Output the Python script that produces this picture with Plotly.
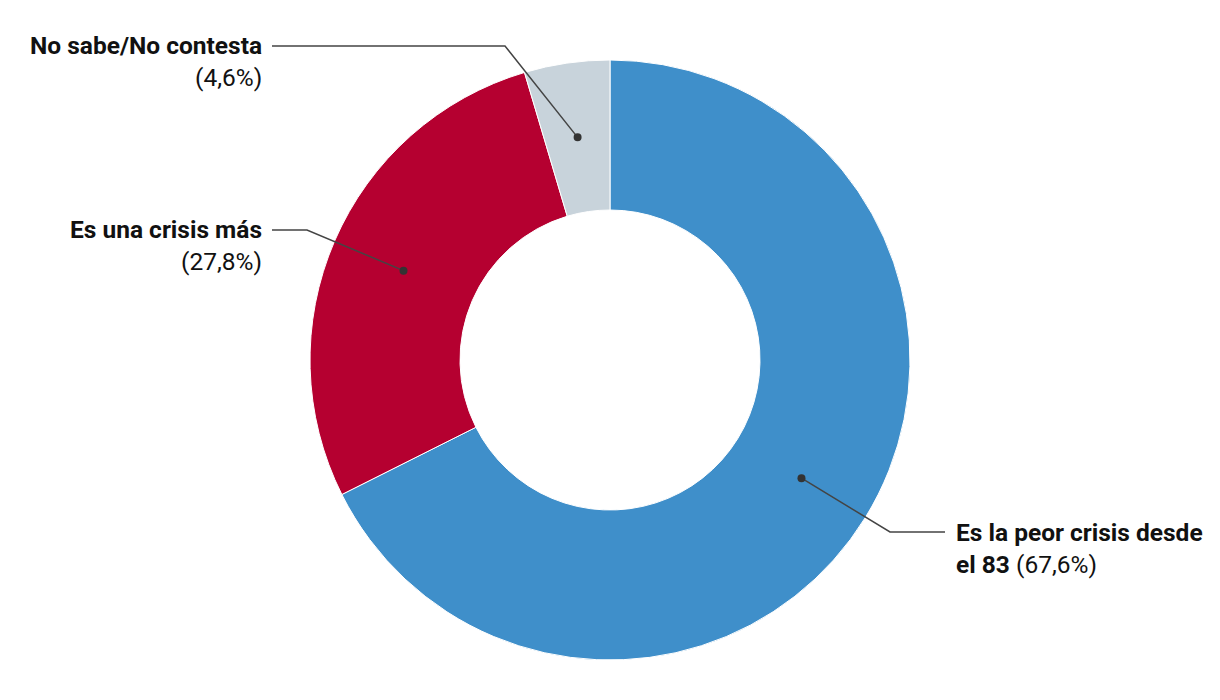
import math
import plotly.graph_objects as go

categories = ["Es la peor crisis desde el 83", "Es una crisis más", "No sabe/No contesta"]
values = [67.6, 27.8, 4.6]
value_labels = ["(67,6%)", "(27,8%)", "(4,6%)"]
colors = ["#3F8FCA", "#B50030", "#C8D3DB"]

W, H = 1220, 700
OFF = 8  # page body margin
CX, CY, R_OUT, R_IN = 610, 360, 300, 150

def px(x):
    return (x - OFF) / W

def py(y):
    return 1 - (y - OFF) / H

fig = go.Figure(go.Pie(
    labels=categories, values=values, sort=False, direction="clockwise", rotation=0,
    hole=R_IN / R_OUT, marker=dict(colors=colors, line=dict(color="white", width=1)),
    textinfo="none", hoverinfo="label+percent", showlegend=False,
    domain=dict(x=[px(CX - R_OUT), px(CX + R_OUT)], y=[py(CY + R_OUT), py(CY - R_OUT)]),
))

# anchor dots at the middle of each slice (computed from the values)
total = sum(values)
cum = 0
dots = []
for v in values:
    mid = (cum + v / 2) / total * 2 * math.pi
    cum += v
    r = (R_OUT + R_IN) / 2
    dots.append((CX + r * math.sin(mid), CY - r * math.cos(mid)))

elbows = [
    [(890, 532), (945, 532)],
    [(307, 230), (272, 230)],
    [(505, 46), (272, 46)],
]

line_col = "#444444"
for (dx, dy), pts in zip(dots, elbows):
    path = f"M {px(dx)},{py(dy)}"
    for x, y in pts:
        path += f" L {px(x)},{py(y)}"
    fig.add_shape(type="path", path=path, xref="paper", yref="paper",
                  line=dict(color=line_col, width=1.5))
    rr = 4
    fig.add_shape(type="circle", xref="paper", yref="paper",
                  x0=px(dx - rr), x1=px(dx + rr), y0=py(dy + rr), y1=py(dy - rr),
                  fillcolor="#333333", line=dict(color="#333333", width=0))

FONT = "Roboto"
txt = "#111111"
def ann(x, y, text, xanchor):
    fig.add_annotation(x=px(x), y=py(y), xref="paper", yref="paper", text=text,
                       showarrow=False, xanchor=xanchor, yanchor="middle",
                       font=dict(family=FONT, size=24.5, color=txt), align=xanchor,
                       borderpad=0, borderwidth=0)

ann(262, 46, f"<b>{categories[2]}</b>", "right")
ann(262, 78, value_labels[2], "right")
ann(262, 229, f"<b>{categories[1]}</b>", "right")
ann(262, 261, value_labels[1], "right")
ann(956, 532, "<b>Es la peor crisis desde</b>", "left")
ann(956, 564, f"<b>el 83</b> {value_labels[0]}", "left")

fig.update_layout(width=W, height=H, margin=dict(l=0, r=0, t=0, b=0),
                  paper_bgcolor="white", plot_bgcolor="white")
fig.write_html("out.html")
